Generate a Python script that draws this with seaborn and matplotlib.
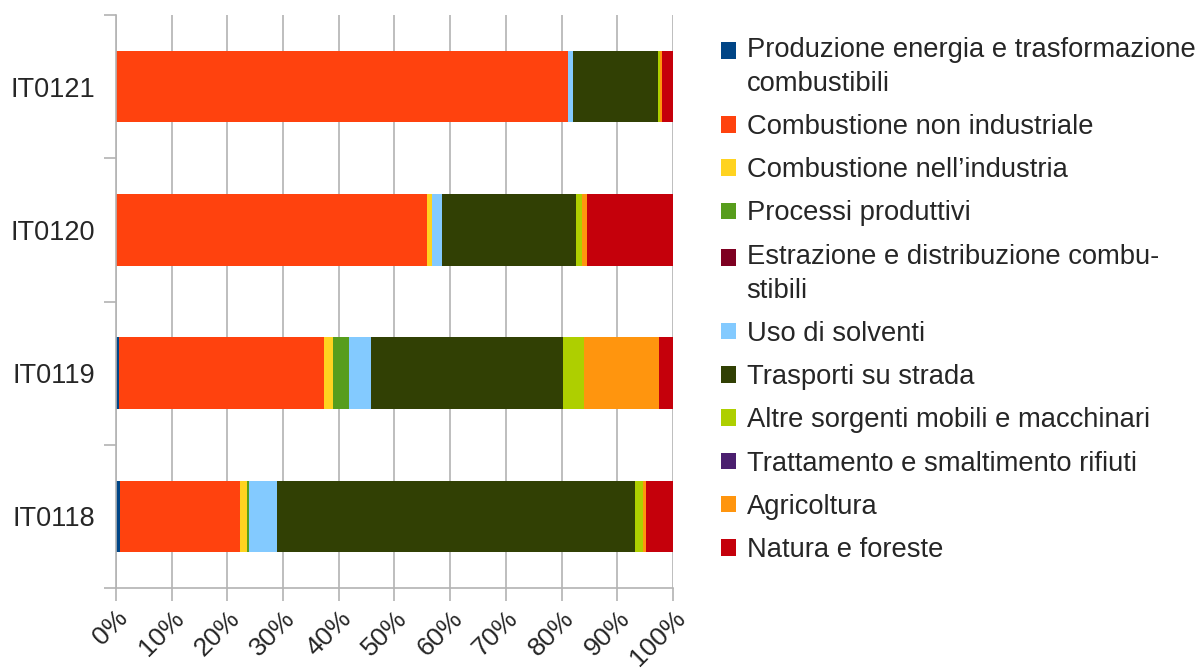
import pandas as pd
import numpy as np
import matplotlib
matplotlib.use("Agg")
import matplotlib.pyplot as plt
from matplotlib.patches import Patch, Rectangle
from matplotlib.legend_handler import HandlerPatch
from matplotlib.ticker import FixedLocator, PercentFormatter
import seaborn as sns

# --- data (share of emissions by source, %) ---
sites = ["IT0121", "IT0120", "IT0119", "IT0118"]
sources = [
    "Produzione energia e trasformazione\ncombustibili",
    "Combustione non industriale",
    "Combustione nell\u2019industria",
    "Processi produttivi",
    "Estrazione e distribuzione combu-\nstibili",
    "Uso di solventi",
    "Trasporti su strada",
    "Altre sorgenti mobili e macchinari",
    "Trattamento e smaltimento rifiuti",
    "Agricoltura",
    "Natura e foreste",
]
it0121 = [0.0, 81.1, 0.1, 0.0, 0.0, 0.9, 15.2, 0.4, 0.0, 0.4, 1.9]
it0120 = [0.0, 55.9, 0.9, 0.0, 0.0, 1.8, 23.9, 1.2, 0.0, 0.8, 15.5]
it0119 = [0.5, 36.9, 1.6, 2.9, 0.0, 3.8, 34.6, 3.8, 0.0, 13.4, 2.5]
it0118 = [0.8, 21.4, 1.3, 0.4, 0.0, 5.1, 64.2, 1.4, 0.0, 0.5, 4.9]

colors = ["#004586", "#ff420e", "#ffd320", "#579d1c", "#7e0021", "#83caff",
          "#314004", "#aecf00", "#4b1f6f", "#ff950e", "#c5000b"]

sns.set_style("white")
plt.rcParams["font.family"] = ["Liberation Sans", "DejaVu Sans"]

# long table + cumulative sums for stacking
values = {"IT0121": it0121, "IT0120": it0120, "IT0119": it0119, "IT0118": it0118}
rows = []
for s in sites:
    cum = np.cumsum(values[s])
    for i, src in enumerate(sources):
        rows.append({"site": s, "source": src, "idx": i, "cum": cum[i]})
df = pd.DataFrame(rows)

fig = plt.figure(figsize=(11.99, 6.68), dpi=100)
ax = fig.add_axes([0.0967, 0.1198, 0.4646, 0.8577])

# draw from the outermost cumulative value inwards
for i in reversed(range(len(sources))):
    sub = df[df["idx"] == i]
    sns.barplot(data=sub, x="cum", y="site", order=sites, orient="h",
                color=colors[i], width=0.5, linewidth=0, saturation=1,
                errorbar=None, ax=ax)

grid_c = "#b3b3b3"
ax.set_xlim(0, 100)
ax.set_ylim(3.5, -0.5)
ax.set_xticks(np.arange(0, 101, 10))
ax.xaxis.set_major_formatter(PercentFormatter(decimals=0))
ax.set_axisbelow(True)
ax.grid(axis="x", color=grid_c, linewidth=1.2)
ax.set_xlabel("")
ax.set_ylabel("")

for side in ["top", "right"]:
    ax.spines[side].set_visible(False)
for side in ["left", "bottom"]:
    ax.spines[side].set_color(grid_c)
    ax.spines[side].set_linewidth(1.2)

ax.tick_params(axis="x", length=9, width=1.2, color=grid_c, labelsize=19,
               pad=4, direction="out", bottom=True)
plt.setp(ax.get_xticklabels(), rotation=45, ha="right", va="top",
         rotation_mode="anchor")
ax.tick_params(axis="y", which="major", length=0, labelsize=19.5, pad=15)
ax.yaxis.set_minor_locator(FixedLocator([-0.5, 0.5, 1.5, 2.5, 3.5]))
ax.tick_params(axis="y", which="minor", length=9, width=1.2, color=grid_c,
               direction="out", left=True)

leg_fs = 19.7


# square sits next to the first line of a wrapped label
def top_square(legend, orig_handle, xdescent, ydescent, width, height, fontsize):
    return Rectangle((-xdescent, -ydescent + 0.6 * fontsize), width, height)


handles = [Patch(facecolor=c, edgecolor="none") for c in colors]
hmap = {h: HandlerPatch(patch_func=top_square)
        for h, lab in zip(handles, sources) if "\n" in lab}
leg = fig.legend(handles, sources, loc="upper left", handler_map=hmap,
                 bbox_to_anchor=(0.601, 0.945), frameon=False, fontsize=leg_fs,
                 handlelength=0.55, handleheight=0.55, handletextpad=0.4,
                 labelspacing=0.63, borderpad=0, borderaxespad=0)
for t in leg.get_texts():
    t.set_linespacing(1.4)

fig.savefig("out.png", dpi=100)
plt.close(fig)
